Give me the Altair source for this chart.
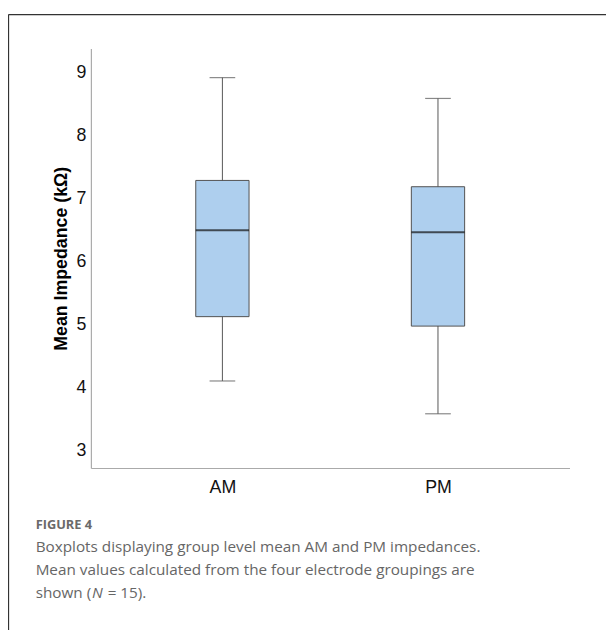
import altair as alt
import pandas as pd

groups = ["AM", "PM"]
whisker_low = [4.11, 3.59]
q1 = [5.13, 4.98]
median = [6.50, 6.47]
q3 = [7.29, 7.19]
whisker_high = [8.92, 8.59]

y_ticks = [3, 4, 5, 6, 7, 8, 9]
y_title = "Mean Impedance (kΩ)"
fig_label = "FIGURE 4"
caption_lines = [
    "Boxplots displaying group level mean AM and PM impedances.",
    "Mean values calculated from the four electrode groupings are",
]
caption_last = ["shown (", "N", "= 15)."]

df = pd.DataFrame({
    "group": groups,
    "low": whisker_low,
    "q1": q1,
    "median": median,
    "q3": q3,
    "high": whisker_high,
})

AXIS_FONT = "Liberation Sans"
CAP_FONT = "Open Sans"
CAP_SIZE = 15.5
CAP_COLOR = "#666666"

x_enc = alt.X(
    "group:N",
    scale=alt.Scale(type="point", domain=groups, padding=0.61),
    axis=alt.Axis(
        title=None, labelAngle=0, tickSize=0, labelPadding=11,
        labelFontSize=18, labelColor="#111", labelFont=AXIS_FONT,
        domainColor="#aaaaaa", domainWidth=1.2, grid=False,
    ),
)
y_scale = alt.Scale(domain=[2.73, 9.38], nice=False, zero=False)
y_axis = alt.Axis(
    values=y_ticks, tickSize=0, labelPadding=5, labelFontSize=18,
    labelAngle=0, labelColor="#111", labelFont=AXIS_FONT, grid=False,
    domainColor="#aaaaaa", domainWidth=1.2,
    title=y_title, titleFontSize=18, titleFont=AXIS_FONT,
    titleFontWeight="bold", titleColor="#000", titlePadding=6,
)

base = alt.Chart(df)

whiskers = base.mark_rule(color="#555555", strokeWidth=1).encode(
    x=x_enc,
    y=alt.Y("low:Q", scale=y_scale, axis=y_axis),
    y2="high:Q",
)
boxes = base.mark_bar(size=54, color="#aecfee", stroke="#505050", strokeWidth=1).encode(
    x=x_enc,
    y=alt.Y("q1:Q", scale=y_scale, axis=y_axis),
    y2="q3:Q",
)
med = base.mark_tick(size=54, thickness=2, color="#111111").encode(
    x=x_enc, y=alt.Y("median:Q", scale=y_scale, axis=y_axis)
)
cap_low = base.mark_tick(size=26, thickness=1.2, color="#555555").encode(
    x=x_enc, y=alt.Y("low:Q", scale=y_scale, axis=y_axis)
)
cap_high = base.mark_tick(size=26, thickness=1.2, color="#555555").encode(
    x=x_enc, y=alt.Y("high:Q", scale=y_scale, axis=y_axis)
)

one = alt.Data(values=[{"k": 1}])

frame_left = alt.Chart(one).mark_rule(color="#333333", strokeWidth=1.3).encode(
    x=alt.value(-83.5), y=alt.value(-34.5), y2=alt.value(600)
)
frame_top = alt.Chart(one).mark_rule(color="#333333", strokeWidth=1.3).encode(
    x=alt.value(-83.5), x2=alt.value(540), y=alt.value(-34.5)
)

fig_text = alt.Chart(one).mark_text(
    align="left", baseline="alphabetic", font=CAP_FONT, fontSize=13,
    fontWeight="bold", color="#6a6a6a",
).encode(x=alt.value(-56), y=alt.value(487), text=alt.value(fig_label))

cap_text = alt.Chart(one).mark_text(
    align="left", baseline="alphabetic", font=CAP_FONT, fontSize=CAP_SIZE,
    color=CAP_COLOR, lineHeight=23,
).encode(x=alt.value(-56), y=alt.value(510.5), text=alt.value(caption_lines))

last_y = 556.5
cap_a = alt.Chart(one).mark_text(
    align="left", baseline="alphabetic", font=CAP_FONT, fontSize=CAP_SIZE, color=CAP_COLOR,
).encode(x=alt.value(-56), y=alt.value(last_y), text=alt.value(caption_last[0]))
cap_b = alt.Chart(one).mark_text(
    align="left", baseline="alphabetic", font=CAP_FONT, fontSize=CAP_SIZE, color=CAP_COLOR,
    fontStyle="italic",
).encode(x=alt.value(1), y=alt.value(last_y), text=alt.value(caption_last[1]))
cap_c = alt.Chart(one).mark_text(
    align="left", baseline="alphabetic", font=CAP_FONT, fontSize=CAP_SIZE, color=CAP_COLOR,
).encode(x=alt.value(17), y=alt.value(last_y), text=alt.value(caption_last[2]))

chart = alt.layer(
    frame_left, frame_top, whiskers, boxes, med, cap_low, cap_high,
    fig_text, cap_text, cap_a, cap_b, cap_c
).properties(
    width=485, height=425,
    autosize=alt.AutoSizeParams(type="none"),
    padding={"left": 84, "top": 37, "right": 37, "bottom": 160},
).configure_view(stroke="transparent")

chart.save("out.html", embed_options={"renderer": "svg", "actions": False})
